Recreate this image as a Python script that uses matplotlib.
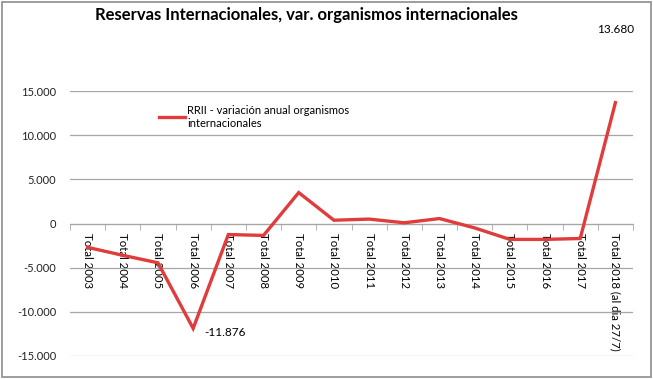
import matplotlib.pyplot as plt
from matplotlib.patches import Rectangle
from matplotlib.ticker import FixedLocator, FuncFormatter

plt.rcParams['font.family'] = ['Lato', 'DejaVu Sans']

categories = ['Total 2003', 'Total 2004', 'Total 2005', 'Total 2006', 'Total 2007',
              'Total 2008', 'Total 2009', 'Total 2010', 'Total 2011', 'Total 2012',
              'Total 2013', 'Total 2014', 'Total 2015', 'Total 2016', 'Total 2017',
              'Total 2018 (al dia 27/7)']
values = [-2700, -3600, -4450, -11876, -1250, -1350, 3500, 370, 500, 80,
          560, -500, -1800, -1800, -1700, 13680]
series_name = 'RRII - variación anual organismos\ninternacionales'
yticks = [-15000, -10000, -5000, 0, 5000, 10000, 15000]

red = '#e03c3c'
grid_col = '#a6a6a6'

fig = plt.figure(figsize=(6.53, 3.79), dpi=100)
ax = fig.add_axes([70 / 653, 1 - 356 / 379, 563 / 653, (356 - 91) / 379])

x = list(range(len(categories)))
ax.plot(x, values, color=red, lw=2.4, solid_joinstyle='miter', label=series_name, zorder=3)

ax.set_xlim(-0.5, len(categories) - 0.5)
ax.set_ylim(-15000, 15000)
ax.set_yticks(yticks)
ax.yaxis.set_major_formatter(FuncFormatter(lambda v, p: f'{int(v):,}'.replace(',', '.')))
ax.grid(axis='y', color=grid_col, lw=0.9)
ax.set_axisbelow(True)
ax.tick_params(axis='y', length=0, labelsize=8, pad=10, colors='#222222')

for s in ['left', 'right', 'top']:
    ax.spines[s].set_visible(False)
ax.spines['bottom'].set_position(('data', 0))
ax.spines['bottom'].set_color(grid_col)

# category labels hang from the zero line, ticks sit between categories
ax.set_xticks(x)
ax.set_xticklabels(categories, rotation=270, fontsize=8.2, va='top', ha='center')
ax.tick_params(axis='x', which='major', length=0, pad=7)
ax.xaxis.set_minor_locator(FixedLocator([i + 0.5 for i in range(-1, len(categories))]))
ax.tick_params(axis='x', which='minor', length=4, color=grid_col, direction='out')

# data labels for extremes
ax.annotate('13.680', (15, 13680), xytext=(0, 49), textcoords='offset points',
            ha='center', va='bottom', fontsize=8.5)
ax.annotate('-11.876', (3, -11876), xytext=(8, -3), textcoords='offset points',
            ha='left', va='center', fontsize=8.5)

ax.legend(loc='upper left', bbox_to_anchor=(0.14, 0.985), frameon=False, fontsize=8,
          handlelength=2.4, handletextpad=0.15)

fig.text(0.47, 0.96, 'Reservas Internacionales, var. organismos internacionales',
         ha='center', va='center', fontsize=12, fontweight='bold')

fig.patches.append(Rectangle((0.003, 0.005), 0.994, 0.99, transform=fig.transFigure,
                             fill=False, ec='#8c8c8c', lw=1.2))

fig.savefig('out.png', dpi=100)
